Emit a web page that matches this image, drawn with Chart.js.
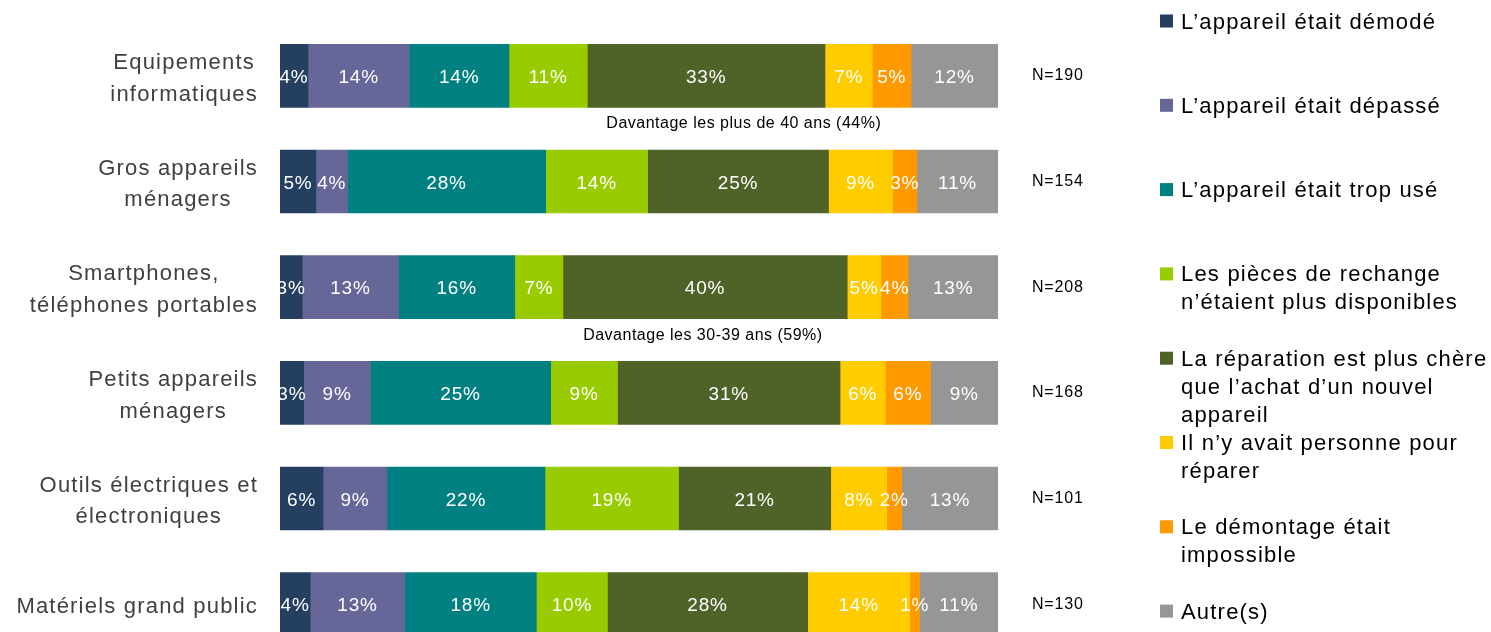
<!DOCTYPE html>
<html lang="fr">
<head>
<meta charset="UTF-8">
<title>Raisons du non-remplacement</title>
<style>
  html, body { margin: 0; padding: 0; background: #fff; overflow: hidden; }
  #wrap { position: relative; width: 1491px; height: 680px; }
</style>
</head>
<body>
<div id="wrap">
  <canvas id="myChart"></canvas>
</div>

<script src="https://cdn.jsdelivr.net/npm/chart.js@4/dist/chart.umd.min.js"></script>
<script>
// categories (one per bar)
const categories = [
  ['Equipements', 'informatiques'],
  ['Gros appareils', 'ménagers'],
  ['Smartphones,', 'téléphones portables'],
  ['Petits appareils', 'ménagers'],
  ['Outils électriques et', 'électroniques'],
  ['Matériels grand public']
];

// series names (legend, split in lines)
const seriesNames = [
  ['L’appareil était démodé'],
  ['L’appareil était dépassé'],
  ['L’appareil était trop usé'],
  ['Les pièces de rechange', 'n’étaient plus disponibles'],
  ['La réparation est plus chère', 'que l’achat d’un nouvel', 'appareil'],
  ['Il n’y avait personne pour', 'réparer'],
  ['Le démontage était', 'impossible'],
  ['Autre(s)']
];

// values in %, one per category
const demode     = [3.9, 5.0, 3.1, 3.3, 6.0, 4.2];
const depasse    = [14.1, 4.4, 13.4, 9.3, 8.9, 13.2];
const tropUse    = [13.9, 27.6, 16.2, 25.1, 22.0, 18.3];
const pieces     = [10.9, 14.2, 6.7, 9.3, 18.6, 9.9];
const reparation = [33.1, 25.2, 39.6, 31.0, 21.2, 27.9];
const personne   = [6.6, 8.9, 4.7, 6.3, 7.8, 14.2];
const demontage  = [5.4, 3.4, 3.8, 6.3, 2.1, 1.4];
const autres     = [12.1, 11.3, 12.5, 9.4, 13.4, 10.9];

const sampleSizes = ['N=190', 'N=154', 'N=208', 'N=168', 'N=101', 'N=130'];

// notes under some bars: [category index, text]
const notes = [
  [0, 'Davantage les plus de 40 ans (44%)'],
  [2, 'Davantage les 30-39 ans (59%)']
];
const noteCenters = [64.6, 58.9]; // x in % of the axis

const colors = ['#243F60', '#666699', '#008080', '#99CC00', '#4F6228', '#FFCC00', '#FF9900', '#969696'];
const allSeries = [demode, depasse, tropUse, pieces, reparation, personne, demontage, autres];

const FONT = '"Liberation Sans", Arial, sans-serif';

const extras = {
  id: 'extras',
  afterDatasetsDraw(chart) {
    const ctx = chart.ctx;
    const area = chart.chartArea;
    const xs = chart.scales.x;
    const ys = chart.scales.y;

    // values inside the segments
    ctx.save();
    ctx.beginPath();
    ctx.rect(area.left, area.top, area.right - area.left, area.bottom - area.top);
    ctx.clip();
    ctx.font = '19px ' + FONT;
    ctx.letterSpacing = '0.8px';
    ctx.fillStyle = '#ffffff';
    ctx.textAlign = 'center';
    ctx.textBaseline = 'middle';
    chart.data.datasets.forEach((ds, i) => {
      chart.getDatasetMeta(i).data.forEach((bar, j) => {
        const cx = (bar.x + bar.base) / 2;
        ctx.fillText(Math.round(ds.data[j]) + '%', cx, bar.y + 2);
      });
    });
    ctx.restore();

    // category labels, centred block ending near the axis
    ctx.save();
    ctx.font = '22px ' + FONT;
    ctx.letterSpacing = '1.2px';
    ctx.fillStyle = '#404040';
    ctx.textAlign = 'center';
    ctx.textBaseline = 'middle';
    categories.forEach((lines, i) => {
      const w = Math.max(...lines.map(l => ctx.measureText(l).width));
      const cx = area.left - 22 - w / 2;
      const cy = ys.getPixelForValue(i) + 3;
      const lh = 31.5;
      lines.forEach((l, k) => {
        ctx.fillText(l, cx, cy + (k - (lines.length - 1) / 2) * lh);
      });
    });
    ctx.restore();

    // N= labels
    ctx.save();
    ctx.font = '16px ' + FONT;
    ctx.letterSpacing = '0.8px';
    ctx.fillStyle = '#000000';
    ctx.textAlign = 'left';
    ctx.textBaseline = 'middle';
    sampleSizes.forEach((s, i) => {
      ctx.fillText(s, area.right + 34, ys.getPixelForValue(i));
    });

    // notes
    ctx.letterSpacing = '0.5px';
    ctx.textAlign = 'center';
    notes.forEach(([idx, txt], k) => {
      const y = ys.getPixelForValue(idx) + 48;
      ctx.fillText(txt, xs.getPixelForValue(noteCenters[k]), y);
    });
    ctx.restore();

    // legend
    ctx.save();
    ctx.font = '22px ' + FONT;
    ctx.letterSpacing = '1.2px';
    ctx.textAlign = 'left';
    ctx.textBaseline = 'middle';
    seriesNames.forEach((lines, i) => {
      const y0 = 22.5 + i * 84.3;
      ctx.fillStyle = colors[i];
      ctx.fillRect(1160, y0 - 8, 13, 13);
      ctx.fillStyle = '#000000';
      lines.forEach((l, k) => {
        ctx.fillText(l, 1181, y0 + k * 28);
      });
    });
    ctx.restore();
  }
};

const ctx = document.getElementById('myChart').getContext('2d');

const chart = new Chart(ctx, {
  type: 'bar',
  data: {
    labels: categories,
    datasets: allSeries.map((vals, i) => ({
      label: seriesNames[i].join(' '),
      data: vals,
      backgroundColor: colors[i],
      borderWidth: 0,
      barThickness: 63
    }))
  },
  options: {
    indexAxis: 'y',
    responsive: true,
    maintainAspectRatio: false,
    animation: false,
    layout: { padding: { left: 280, right: 493, top: 23, bottom: 23 } },
    plugins: {
      legend: { display: false },
      tooltip: { enabled: false }
    },
    scales: {
      x: { stacked: true, min: 0, max: 100, display: false },
      y: { stacked: true, display: false }
    }
  },
  plugins: [extras]
});
</script>
</body>
</html>
